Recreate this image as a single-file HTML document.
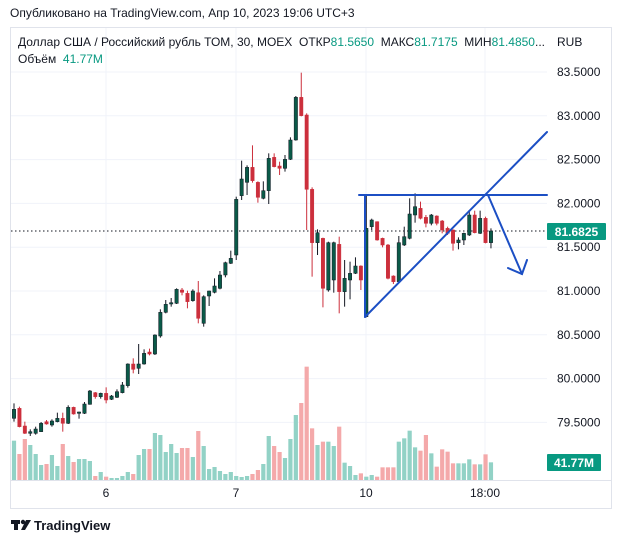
<!DOCTYPE html>
<html><head><meta charset="utf-8"><style>
body{margin:0;background:#fff;font-family:"Liberation Sans",sans-serif;}
svg{display:block}
</style></head><body>
<svg id="s" width="623" height="543" xmlns="http://www.w3.org/2000/svg" font-family="Liberation Sans, sans-serif">
<rect width="623" height="543" fill="#fff"/>
<text x="10" y="17" font-size="12" fill="#131722">Опубликовано на TradingView.com, Апр 10, 2023 19:06 UTC+3</text>
<rect x="10.5" y="27.5" width="601" height="481" fill="none" stroke="#e0e3eb"/>
<g id="grid" stroke="#f0f3fa" stroke-width="1"></g>
<line x1="11" y1="231" x2="547" y2="231" stroke="#131722" stroke-dasharray="1.5,2.5"/>
<g id="vol"></g>
<g id="cand"></g>
<g stroke="#1c4fc4" stroke-width="2" fill="none" stroke-linecap="round">
<line x1="359" y1="195" x2="547" y2="195"/>
<line x1="365" y1="196" x2="365" y2="317"/>
<line x1="365" y1="317" x2="547" y2="132"/>
<polyline points="488,195 522,274"/>
<polyline points="508,268 522,274 527,260"/>
</g>
<line x1="11" y1="480.5" x2="611" y2="480.5" stroke="#e0e3eb"/>
<text x="18" y="46" font-size="12" fill="#131722">Доллар США / Российский рубль ТОМ, 30, MOEX&#160;&#160;ОТКР<tspan fill="#089981">81.5650</tspan>&#160;&#160;МАКС<tspan fill="#089981">81.7175</tspan>&#160;&#160;МИН<tspan fill="#089981">81.4850</tspan>...</text>
<text x="18" y="63" font-size="12" fill="#131722">Объём&#160;&#160;<tspan fill="#089981">41.77M</tspan></text>
<text x="557" y="46" font-size="12" fill="#131722">RUB</text>
<g id="ax" font-size="12" fill="#131722"></g>
<rect x="547" y="223" width="59" height="17" fill="#089981" rx="1"/>
<text x="576.5" y="236" font-size="12" fill="#fff" font-weight="bold" text-anchor="middle">81.6825</text>
<rect x="547" y="454" width="54" height="17" fill="#089981" rx="1"/>
<text x="574" y="467" font-size="12" fill="#fff" font-weight="bold" text-anchor="middle">41.77M</text>
<g font-size="12" fill="#131722" text-anchor="middle">
<text x="106" y="497">6</text><text x="236" y="497">7</text><text x="366" y="497">10</text><text x="485" y="497">18:00</text>
</g>
<g transform="translate(11,518)"><rect x="0" y="2" width="9" height="4" fill="#131722"/><rect x="3" y="2" width="4" height="10" fill="#131722"/><circle cx="12" cy="4" r="2.2" fill="#131722"/><path d="M15 2 L20 2 L14 12 L10 12 Z" fill="#131722"/></g>
<text x="34" y="530" font-size="13" fill="#131722" font-weight="bold">TradingView</text>
</svg>
<script>
const NS="http://www.w3.org/2000/svg";
function el(p,t,a){const e=document.createElementNS(NS,t);for(const k in a)e.setAttribute(k,a[k]);p.appendChild(e);return e;}
const g=document.getElementById('grid'),ax=document.getElementById('ax');
const lv=["83.5000","83.0000","82.5000","82.0000","81.5000","81.0000","80.5000","80.0000","79.5000"];
lv.forEach((t,i)=>{const y=72+i*43.8;el(g,'line',{x1:11,x2:547,y1:y,y2:y});el(ax,'text',{x:557,y:y+4}).textContent=t;});
[106,236,366,485].forEach(x=>el(g,'line',{x1:x,x2:x,y1:28,y2:480}));
const C=[
['g',1048,1075,1030,1085],['r',1045,1100,1040,1102],['r',1098,1120,1085,1122],['g',1115,1120,1108,1128],['g',1107,1120,1100,1124],
['g',1090,1115,1086,1116],['r',1085,1092,1080,1094],['g',1083,1095,1078,1100],['g',1075,1085,1058,1087],['r',1075,1090,1058,1115],
['g',1042,1090,1036,1092],['r',1042,1062,1040,1064],['g',1056,1060,1055,1076],['g',1032,1060,1026,1062],['g',993,1033,990,1034],
['r',998,1010,996,1016],['g',1000,1010,998,1016],['r',1000,1020,982,1030],['g',1008,1018,1005,1020],['g',995,1012,988,1014],
['g',975,998,966,1000],['g',912,977,910,983],['r',912,928,895,940],['g',912,925,852,942],['g',880,912,868,914],
['r',876,882,866,886],['g',825,882,823,885],['g',757,828,748,833],['g',733,757,720,760],['g',728,732,714,740],
['g',688,730,685,732],['r',690,697,684,706],['r',700,725,692,745],['g',693,722,688,725],['r',698,775,663,790],
['g',710,790,706,800],['g',693,708,692,738],['g',678,697,655,700],['g',645,685,633,688],['g',608,645,605,652],
['g',595,610,572,612],['g',418,585,410,600],['g',357,407,302,420],['g',322,367,316,405],['r',322,362,256,368],
['r',367,412,364,428],['g',392,415,364,418],['g',295,392,280,432],['r',292,320,280,322],['r',318,325,305,345],
['g',298,325,285,335],['g',240,298,232,300],['g',112,240,108,242],['r',112,167,38,169],['r',165,388,160,510],
['r',388,548,382,650],['g',518,548,508,585],['r',535,685,533,742],['g',548,690,545,695],['g',548,660,545,698],
['r',553,695,530,760],['g',655,695,600,740],['g',640,660,605,718],['g',618,640,592,642],['r',618,660,616,690],
['g',505,770,405,772],['g',480,500,476,510],['r',485,540,484,542],['r',535,555,533,562],['r',555,655,552,658],
['r',648,665,646,672],['g',548,665,528,668],['g',530,555,500,558],['g',462,535,415,538],['g',440,465,400,488],
['r',445,475,425,478],['r',472,490,465,502],['g',465,490,462,496],['r',468,490,466,496],['r',483,510,480,520],
['r',505,520,500,525],['r',510,550,508,572],['g',540,548,532,568],['g',520,540,518,555],['g',465,525,450,528],
['r',465,518,452,520],['g',475,520,452,522],['r',475,548,470,550],['g',513,548,505,565]];
const V=[1142,1182,1137,1155,1182,1215,1212,1185,1218,1152,1188,1206,1197,1197,1203,1248,1236,1250,1254,1254,1248,1236,1242,1185,1167,1167,1119,1125,1176,1152,1179,1164,1164,1191,1113,1158,1227,1221,1233,1242,1236,1248,1251,1248,1242,1230,1212,1128,1158,1176,1194,1137,1065,1029,920,
1105,1155,1145,1145,1158,1100,1208,1218,1245,1240,1250,1245,1250,1222,1222,1222,1145,1135,1112,1162,1172,1125,1180,1220,1168,1175,1210,1210,1210,1198,1213,1213,1183,1207];
const cg=document.getElementById('cand'),vg=document.getElementById('vol');
const Y=z=>60+z/3;
C.forEach((c,i)=>{const x=14+i*5.42;const col=c[0]=='g'?'#0a5a48':'#cc2f3c';
const vt=Y(V[i]);el(vg,'rect',{x:x-2.1,y:vt,width:4.2,height:Math.max(0,480-vt),fill:c[0]=='g'?'#92d2c6':'#f4a9aa'});
el(cg,'line',{x1:x,x2:x,y1:Y(c[3]),y2:Y(c[4]),stroke:c[0]=='g'?'#131722':col,'stroke-width':1});
const t=Y(c[1]),b=Y(c[2]);el(cg,'rect',{x:x-1.7,y:t,width:3.4,height:Math.max(1,b-t),fill:col,stroke:c[0]=='g'?'#131722':col,'stroke-width':0.5});});
</script>
</body></html>
